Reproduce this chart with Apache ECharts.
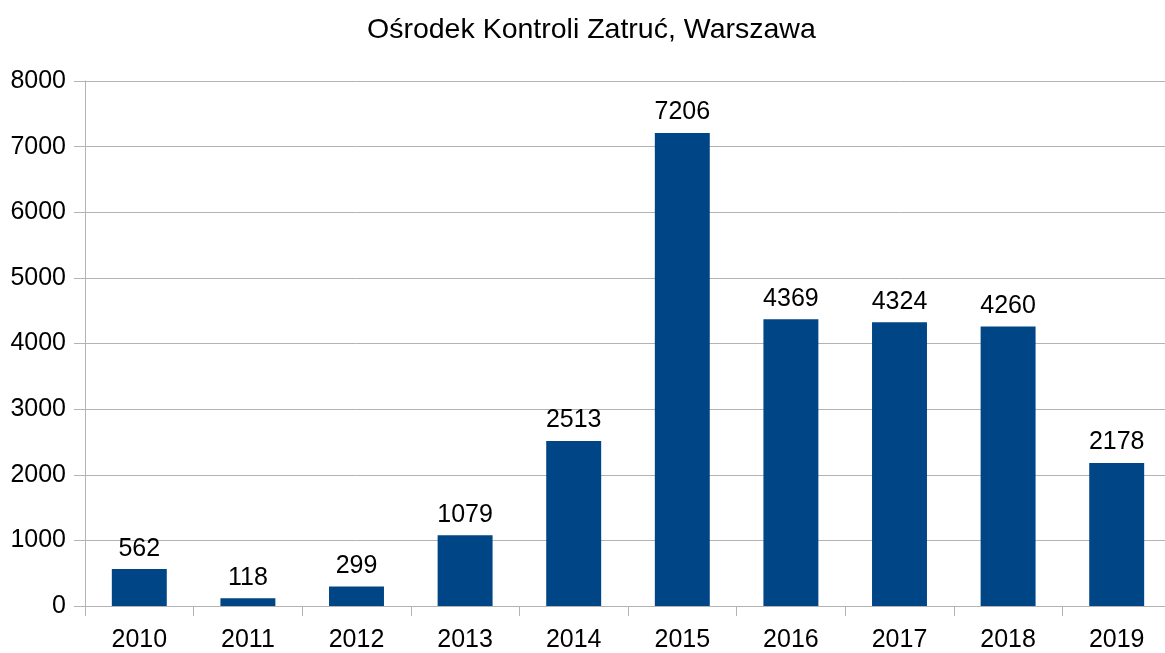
<!DOCTYPE html>
<html>
<head>
<meta charset="utf-8">
<script src="https://cdn.jsdelivr.net/npm/echarts@6/dist/echarts.min.js"></script>
<style>
  html, body { margin: 0; padding: 0; background: #fff; overflow: hidden; }
  /* slightly wider than the window: the plot runs past the right edge, as in the original */
  #chart { width: 1171px; height: 653px; }
</style>
</head>
<body>
<div id="chart"></div>
<script>
// Data
const years = ['2010', '2011', '2012', '2013', '2014', '2015', '2016', '2017', '2018', '2019'];
const cases = [562, 118, 299, 1079, 2513, 7206, 4369, 4324, 4260, 2178];

const font = '"Liberation Sans", Arial, sans-serif';
const gray = '#b3b3b3';

const myChart = echarts.init(document.querySelector('#chart'));

myChart.setOption({
    animation: false,
    title: {
        text: 'Ośrodek Kontroli Zatruć, Warszawa',
        left: 362,
        top: 11,
        textStyle: { fontFamily: font, fontSize: 28.5, fontWeight: 'normal', color: '#000' }
    },
    grid: { left: 85, right: 0, top: 81, bottom: 46, containLabel: false },
    xAxis: {
        type: 'category',
        data: years,
        axisLine: { lineStyle: { color: gray } },
        axisTick: { show: true, length: 10, lineStyle: { color: gray } },
        axisLabel: { fontFamily: font, fontSize: 25, color: '#000', margin: 22 }
    },
    yAxis: {
        type: 'value',
        min: 0,
        max: 8000,
        interval: 1000,
        axisLine: { show: true, lineStyle: { color: gray } },
        axisTick: { show: true, length: 11, lineStyle: { color: gray } },
        splitLine: { lineStyle: { color: gray } },
        axisLabel: { fontFamily: font, fontSize: 25, color: '#000', margin: 19, formatter: v => String(v) }
    },
    series: [{
        type: 'bar',
        data: cases,
        barWidth: '50.6%',
        itemStyle: { color: '#004586' },
        label: {
            show: true,
            position: 'top',
            distance: 8,
            fontFamily: font,
            fontSize: 25,
            color: '#000'
        }
    }]
});
</script>
</body>
</html>
